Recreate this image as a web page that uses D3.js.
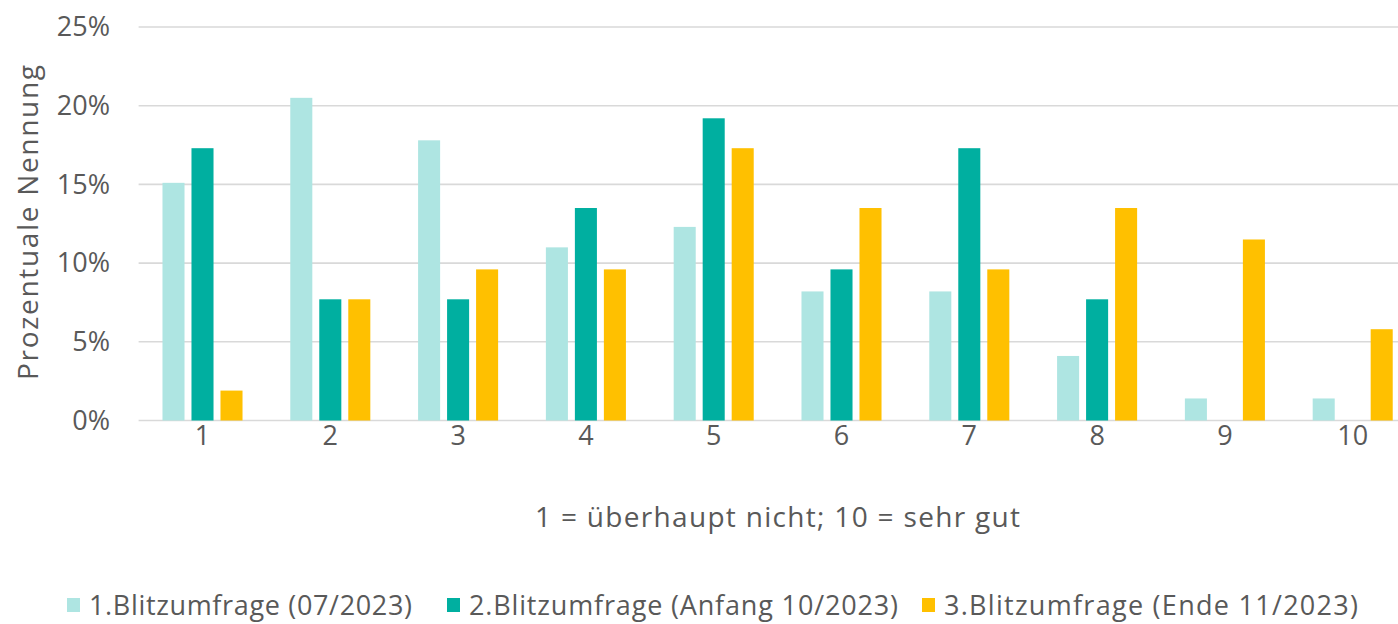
<!DOCTYPE html>
<html>
<head>
<meta charset="utf-8">
<script src="https://cdn.jsdelivr.net/npm/d3@7"></script>
<style>
  html, body { margin: 0; padding: 0; background: #ffffff; overflow: hidden; }
  svg { display: block; font-family: "Open Sans", Lato, sans-serif; }
</style>
</head>
<body>
<svg id="chart" width="1398" height="624"></svg>
<script>
// ---- data ----
const categories = ["1", "2", "3", "4", "5", "6", "7", "8", "9", "10"];
const seriesNames = [
  "1.Blitzumfrage (07/2023)",
  "2.Blitzumfrage (Anfang 10/2023)",
  "3.Blitzumfrage (Ende 11/2023)"
];
const survey1 = [15.1, 20.5, 17.8, 11.0, 12.3, 8.2, 8.2, 4.1, 1.4, 1.4];
const survey2 = [17.3, 7.7, 7.7, 13.5, 19.2, 9.6, 17.3, 7.7, 0, 0];
const survey3 = [1.9, 7.7, 9.6, 9.6, 17.3, 13.5, 9.6, 13.5, 11.5, 5.8];
const yTicks = [0, 5, 10, 15, 20, 25];
const colors = ["#aee5e2", "#00afa0", "#ffc000"];
const yTitle = "Prozentuale Nennung";
const xTitle = "1 = überhaupt nicht; 10 = sehr gut";

const seriesValues = [survey1, survey2, survey3];
const rows = categories.map((c, i) => ({
  cat: c,
  vals: seriesNames.map((s, j) => ({ series: s, value: seriesValues[j][i], color: colors[j] }))
}));

// ---- layout ----
const svg = d3.select("#chart");
const textColor = "#595959";
const gridColor = "#d9d9d9";
const plotLeft = 138.6, plotRight = 1416.6;
const plotTop = 27, plotBottom = 420.5;

// stretch text to the wide glyph spacing seen in the reference
function fitText(sel, target) {
  const node = sel.node();
  const w = node.getComputedTextLength();
  const n = node.textContent.length;
  if (n > 1) sel.style("letter-spacing", ((target - w) / (n - 1)) + "px");
}

const x0 = d3.scaleBand().domain(categories).range([plotLeft, plotRight]).paddingInner(0).paddingOuter(0);
const x1 = d3.scaleBand().domain(seriesNames).range([-43.5, 43.5]).paddingInner(0.24).paddingOuter(0.12);
const y = d3.scaleLinear().domain([0, 25]).range([plotBottom, plotTop]);

// gridlines
svg.append("g")
  .selectAll("line")
  .data(yTicks)
  .join("line")
  .attr("x1", plotLeft)
  .attr("x2", 1398)
  .attr("y1", d => y(d))
  .attr("y2", d => y(d))
  .attr("stroke", gridColor)
  .attr("stroke-width", 1.6);

// y axis labels
const yAxis = d3.axisLeft(y).tickValues(yTicks).tickFormat(d => d + "%").tickSize(0).tickPadding(0);
const yG = svg.append("g").attr("transform", "translate(110,0)").call(yAxis);
yG.select(".domain").remove();
yG.selectAll("text")
  .attr("fill", textColor)
  .style("font-family", "'Open Sans', sans-serif")
  .style("font-size", "27px");

// bars
const groups = svg.append("g")
  .selectAll("g")
  .data(rows)
  .join("g")
  .attr("transform", d => `translate(${x0(d.cat) + x0.bandwidth() / 2},0)`);

groups.selectAll("rect")
  .data(d => d.vals)
  .join("rect")
  .attr("x", d => x1(d.series))
  .attr("width", x1.bandwidth())
  .attr("y", d => y(d.value))
  .attr("height", d => y(0) - y(d.value))
  .attr("fill", d => d.color);

// x axis labels
const xAxis = d3.axisBottom(x0).tickSize(0).tickPadding(0);
const xG = svg.append("g").attr("transform", "translate(0,426)").call(xAxis);
xG.select(".domain").remove();
xG.selectAll("text")
  .attr("fill", textColor)
  .attr("dy", "0.71em")
  .style("font-family", "'Open Sans', sans-serif")
  .style("font-size", "27px");

// axis titles
const xt = svg.append("text")
  .attr("x", 535)
  .attr("y", 527)
  .attr("fill", textColor)
  .style("font-size", "28px")
  .text(xTitle);
fitText(xt, 485);

const yt = svg.append("text")
  .attr("transform", "translate(38,380) rotate(-90)")
  .attr("fill", textColor)
  .style("font-size", "28px")
  .text(yTitle);
fitText(yt, 315);

// legend
const legendX = [67, 447, 922];
const legendW = [323, 429, 414];
const legend = svg.append("g");
seriesNames.forEach((s, i) => {
  legend.append("rect")
    .attr("x", legendX[i])
    .attr("y", 598)
    .attr("width", 13)
    .attr("height", 14)
    .attr("fill", colors[i]);
  const t = legend.append("text")
    .attr("x", legendX[i] + 22)
    .attr("y", 615)
    .attr("fill", textColor)
    .style("font-size", "27px")
    .text(s);
  fitText(t, legendW[i]);
});
</script>
</body>
</html>
